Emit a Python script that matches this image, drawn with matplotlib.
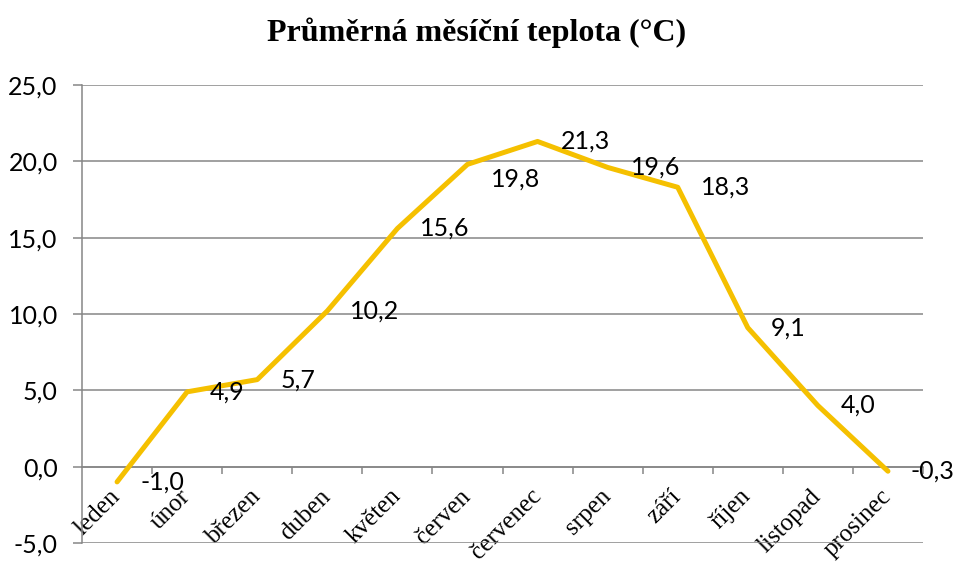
import matplotlib
matplotlib.use('Agg')
import matplotlib.pyplot as plt
import numpy as np

## Data
months = ['leden', 'únor', 'březen', 'duben', 'květen', 'červen',
          'červenec', 'srpen', 'září', 'říjen', 'listopad', 'prosinec']
temps  = [-1.0, 4.9, 5.7, 10.2, 15.6, 19.8, 21.3, 19.6, 18.3, 9.1, 4.0, -0.3]
yticks = [-5, 0, 5, 10, 15, 20, 25]

line_col = '#F5C000'
grid_col = '#868686'
sans     = ['Lato', 'DejaVu Sans']
serif    = ['Liberation Serif', 'DejaVu Serif']

fig = plt.figure(figsize=(9.54, 5.65), dpi=100)
ax  = fig.add_axes([0.086, 0.039, 0.8815, 0.8106])

x = np.arange(len(months))
ax.plot(x, temps, color=line_col, lw=3.6, solid_joinstyle='round',
        solid_capstyle='round', zorder=3, clip_on=False)

## Popisky hodnot (vpravo od bodu)
label_dy = {5: -15}   # posun popisku 19,8 dolu jako v originale
for i, v in enumerate(temps):
    ax.annotate(('%.1f' % v).replace('.', ','), (x[i], v),
                xytext=(23, label_dy.get(i, 0)), textcoords='offset pixels',
                ha='left', va='center', fontsize=18, family=sans,
                color='black', zorder=4)

ax.set_xlim(-0.5, len(months) - 0.5)
ax.set_ylim(-5, 25)
ax.set_yticks(yticks)
ax.set_yticklabels([('%.1f' % t).replace('.', ',') for t in yticks],
                   fontsize=18, family=sans)
ax.yaxis.grid(True, color=grid_col, lw=1.1)
ax.set_axisbelow(True)

## Osa x v nule, carky na hranicich kategorii
ax.spines['bottom'].set_position(('data', 0))
ax.spines['bottom'].set_color(grid_col)
ax.spines['bottom'].set_linewidth(1.1)
ax.spines['left'].set_color(grid_col)
ax.spines['left'].set_linewidth(1.1)
ax.spines['top'].set_visible(False)
ax.spines['right'].set_visible(False)

ax.set_xticks(np.arange(0.5, len(months), 1.0))
ax.set_xticklabels([])
ax.set_xticks(x, minor=True)
ax.set_xticklabels(months, minor=True, rotation=45, ha='right', va='center',
                   rotation_mode='anchor', fontsize=18, family=serif)
ax.tick_params(axis='x', which='major', direction='out', length=5,
               color=grid_col, width=1.1)
ax.tick_params(axis='x', which='minor', length=0, pad=19)
ax.tick_params(axis='y', direction='out', length=6.5, color=grid_col,
               width=1.1, pad=11)

fig.text(0.5, 0.942, 'Průměrná měsíční teplota (°C)', ha='center',
         va='center', fontsize=23, fontweight='bold', family=serif)

fig.savefig('out.png', dpi=100)
